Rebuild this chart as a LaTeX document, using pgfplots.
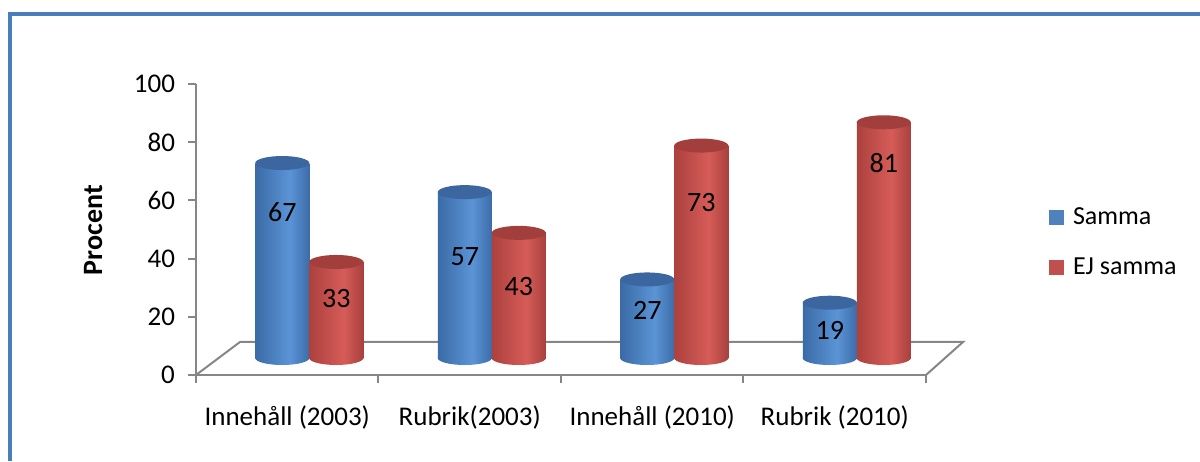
\documentclass[border=0pt]{standalone}
\usepackage{pgfplots}
\pgfplotsset{compat=1.18}
\usepackage{pgfplotstable}
\usepackage{fontspec}
\setmainfont{Carlito}
\usetikzlibrary{shapes.geometric}

\definecolor{frameblue}{HTML}{4A7EBB}
\definecolor{axgray}{HTML}{868686}
\definecolor{bdark}{HTML}{3A6BA6}
\definecolor{blight}{HTML}{5B94D6}
\definecolor{bdark2}{HTML}{3C6CA8}
\definecolor{btop}{HTML}{3B66A0}
\definecolor{bleg}{HTML}{4F81BD}
\definecolor{rdark}{HTML}{AC413E}
\definecolor{rlight}{HTML}{D65C58}
\definecolor{rdark2}{HTML}{A8403D}
\definecolor{rtop}{HTML}{A23F3C}
\definecolor{rleg}{HTML}{C0504D}

\pgfdeclarehorizontalshading{bluecyl}{100bp}{color(0bp)=(bdark); color(25bp)=(bdark); color(57bp)=(blight); color(75bp)=(bdark2); color(100bp)=(bdark2)}
\pgfdeclarehorizontalshading{redcyl}{100bp}{color(0bp)=(rdark); color(25bp)=(rdark); color(57bp)=(rlight); color(75bp)=(rdark2); color(100bp)=(rdark2)}

\pgfplotstableread{
x samma ejsamma lsamma lejsamma
0 67 33 50.2 20.3
1 57 43 34.7 24.7
2 27 73 16.5 53.6
3 19 81 9.6 67.0
}\data

\begin{document}
\begin{tikzpicture}[font=\fontsize{13.5}{16}\selectfont]
\useasboundingbox (0,0) rectangle (600pt,230.5pt);
\draw[frameblue, line width=2pt] (5pt,0) -- (5pt,223.5pt) -- (600pt,223.5pt);

% main frame axis
\begin{axis}[
  at={(98pt,43pt)}, anchor=south west, scale only axis,
  width=365pt, height=145.5pt,
  xmin=-0.5, xmax=3.5, ymin=0, ymax=100,
  clip=false,
  axis lines*=left,
  axis line style={axgray, line width=1pt},
  xtick={0,1,2,3},
  xticklabels={Innehåll (2003), Rubrik(2003), Innehåll (2010), Rubrik (2010)},
  major x tick style={draw=none},
  minor xtick={-0.5,0.5,1.5,2.5,3.5},
  ytick={0,20,40,60,80,100},
  tick align=outside, major tick length=4pt, minor tick length=4pt,
  tick style={axgray, line width=1pt},
  /pgf/number format/assume math mode=true,
  xticklabel style={anchor=north, yshift=-8pt},
  yticklabel style={anchor=east, xshift=-3pt},
  ylabel={Procent},
  every axis y label/.style={at={(axis description cs:-0.141,0.498)}, rotate=90, anchor=center, font=\fontsize{14}{16}\selectfont\bfseries},
  legend style={draw=none, fill=none, inner sep=0pt, at={(rel axis cs:1.168,0.455)}, anchor=west, row sep=11pt, font=\fontsize{13}{15.5}\selectfont,
    /tikz/every odd column/.append style={column sep=2.5pt}},
  legend cell align=left,
  legend image code/.code={\fill[#1] (0pt,-3.75pt) rectangle (7.5pt,3.75pt);},
]
\addlegendimage{fill=bleg, draw=none}
\addlegendentry{Samma}
\addlegendimage{fill=rleg, draw=none}
\addlegendentry{EJ samma}
\draw[axgray, line width=1pt] (axis cs:-0.5,0) -- ([shift={(22pt,16.5pt)}]axis cs:-0.5,0)
   -- ([shift={(18.5pt,16.5pt)}]axis cs:3.5,0) -- (axis cs:3.5,0);
\end{axis}

% bars axis (shifted into the 3D floor)
\begin{axis}[
  at={(109pt,51.5pt)}, anchor=south west, scale only axis,
  width=365pt, height=145.5pt,
  xmin=-0.5, xmax=3.5, ymin=0, ymax=100,
  clip=false, hide axis,
  /pgf/number format/assume math mode=true,
]
\pgfplotsinvokeforeach{0,1,2,3}{
% Samma (blue)
\addplot[ybar, bar width=27pt, bar shift=-13.5pt, draw=none, fill=none,
  restrict x to domain=#1:#1,
  nodes near coords={\relax},
  every node near coord/.style={ellipse, inner sep=0pt, minimum width=27pt, minimum height=7pt,
     shading=bluecyl, anchor=center, xshift=-13.5pt}]
  table[x=x, y expr=0] {\data};
\addplot[ybar, bar width=27pt, bar shift=-13.5pt, draw=none,
  restrict x to domain=#1:#1, shading=bluecyl]
  table[x=x, y=samma] {\data};
\addplot[ybar, bar width=27pt, bar shift=-13.5pt, draw=none, fill=none,
  restrict x to domain=#1:#1,
  nodes near coords={\relax},
  every node near coord/.style={ellipse, inner sep=0pt, minimum width=27pt, minimum height=7pt,
     fill=btop, anchor=center, xshift=-13.5pt}]
  table[x=x, y=samma] {\data};
% EJ samma (red)
\addplot[ybar, bar width=27pt, bar shift=13.5pt, draw=none, fill=none,
  restrict x to domain=#1:#1,
  nodes near coords={\relax},
  every node near coord/.style={ellipse, inner sep=0pt, minimum width=27pt, minimum height=7pt,
     shading=redcyl, anchor=center, xshift=13.5pt}]
  table[x=x, y expr=0] {\data};
\addplot[ybar, bar width=27pt, bar shift=13.5pt, draw=none,
  restrict x to domain=#1:#1, shading=redcyl]
  table[x=x, y=ejsamma] {\data};
\addplot[ybar, bar width=27pt, bar shift=13.5pt, draw=none, fill=none,
  restrict x to domain=#1:#1,
  nodes near coords={\relax},
  every node near coord/.style={ellipse, inner sep=0pt, minimum width=27pt, minimum height=7pt,
     fill=rtop, anchor=center, xshift=13.5pt}]
  table[x=x, y=ejsamma] {\data};
}
% value labels
\addplot[draw=none, mark=none,
  point meta=explicit, nodes near coords,
  every node near coord/.style={anchor=center, text=black, font=\fontsize{14}{16}\selectfont, xshift=-13.5pt}]
  table[x=x, y=lsamma, meta=samma] {\data};
\addplot[draw=none, mark=none,
  point meta=explicit, nodes near coords,
  every node near coord/.style={anchor=center, text=black, font=\fontsize{14}{16}\selectfont, xshift=13.5pt}]
  table[x=x, y=lejsamma, meta=ejsamma] {\data};
\end{axis}
\end{tikzpicture}
\end{document}
